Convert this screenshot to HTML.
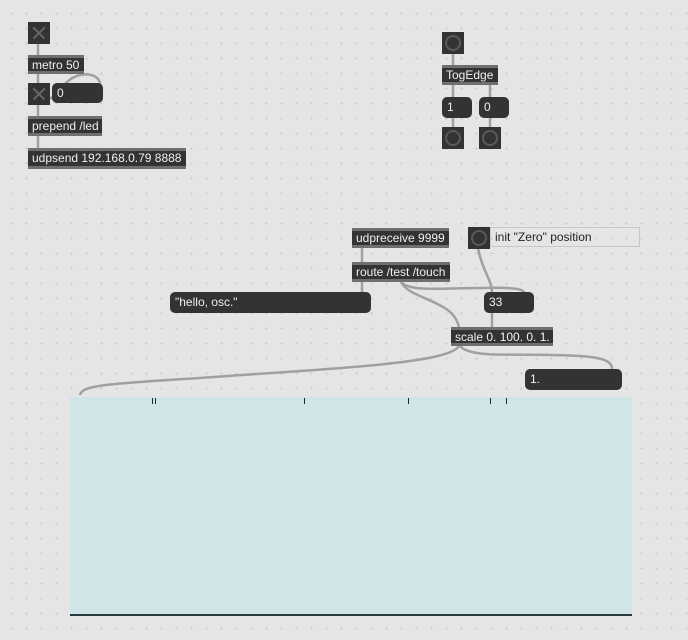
<!DOCTYPE html>
<html><head><meta charset="utf-8"><style>
*{margin:0;padding:0;box-sizing:border-box}
body{width:688px;height:640px;overflow:hidden;position:relative;background-color:#e5e5e5;
background-image:radial-gradient(circle,#c8c8c8 0.8px,transparent 1.2px);background-size:15px 15px;background-position:4px 6px;
font-family:"Liberation Sans",Arial,sans-serif;font-size:12px;color:#f0f0f0}
.o{position:absolute;background:#333;border-top:3px solid #6f6f6f;border-bottom:3px solid #6f6f6f;line-height:14px;padding-left:4px;white-space:nowrap}
.n{position:absolute;background:#333;border-radius:5px;line-height:20px;padding-left:5px}
.t{position:absolute;width:22px;height:22px;background:#333}
.t:before,.t:after{content:"";position:absolute;left:3px;top:10px;width:16px;height:1.5px;background:#666;transform:rotate(45deg)}
.t:after{transform:rotate(-45deg)}
.b{position:absolute;width:22px;height:22px;background:#333}
.b:after{content:"";position:absolute;left:3px;top:3px;width:16px;height:16px;border:2px solid #5a5a5a;border-radius:50%;box-sizing:border-box}
svg{position:absolute;left:0;top:0}
</style></head><body>
<div style="position:absolute;left:70px;top:397px;width:562px;height:219px;background:#cfe5e7;border-bottom:2px solid #2a3a40"></div>
<svg width="688" height="640">
<g stroke="#1e2a2a" stroke-width="1">
<line x1="152.5" y1="398" x2="152.5" y2="404"/><line x1="155.5" y1="398" x2="155.5" y2="404"/>
<line x1="304.5" y1="398" x2="304.5" y2="404"/><line x1="408.5" y1="398" x2="408.5" y2="404"/>
<line x1="490.5" y1="398" x2="490.5" y2="404"/><line x1="506.5" y1="398" x2="506.5" y2="404"/>
</g>
<g fill="none" stroke="#a0a0a0" stroke-width="2.5">
<path d="M38 44 V56"/><path d="M38 73 V84"/><path d="M38 105 V117"/><path d="M38 136 V149"/>
<path d="M38 103 C60 100 60 80 80 75 C95 72 100 80 100 84"/>
<path d="M453 54 V66"/><path d="M453 84 V98"/><path d="M490 84 V98"/><path d="M453 118 V128"/><path d="M490 118 V128"/>
<path d="M362 247 V263"/><path d="M362 281 V293"/>
<path d="M401 282 C410 300 455 300 459 328"/>
<path d="M401 282 C410 292 440 288 480 288 C520 287 524 290 524 293"/>
<path d="M478 248 C482 270 492 280 492 293"/><path d="M492 312 V328"/>
<path d="M459 345 C455 365 300 370 200 378 C100 384 82 386 80 395"/>
<path d="M459 345 C470 360 520 352 580 356 C612 358 612 365 612 370"/>
</g></svg>
<div class="t" style="left:28px;top:22px"></div>
<div class="o" style="left:28px;top:55px;width:56px;height:19px">metro 50</div>
<div class="t" style="left:28px;top:83px"></div>
<div class="n" style="left:52px;top:83px;width:51px;height:20px">0</div>
<div class="o" style="left:28px;top:116px;width:74px;height:20px">prepend /led</div>
<div class="o" style="left:28px;top:148px;width:158px;height:21px">udpsend 192.168.0.79 8888</div>
<div class="b" style="left:442px;top:32px"></div>
<div class="o" style="left:442px;top:65px;width:56px;height:20px">TogEdge</div>
<div class="n" style="left:442px;top:97px;width:30px;height:21px">1</div>
<div class="n" style="left:479px;top:97px;width:30px;height:21px">0</div>
<div class="b" style="left:442px;top:127px"></div>
<div class="b" style="left:479px;top:127px"></div>
<div class="o" style="left:352px;top:228px;width:97px;height:20px">udpreceive 9999</div>
<div class="b" style="left:468px;top:227px"></div>
<div style="position:absolute;left:490px;top:227px;width:150px;height:20px;border:1px solid #c8c8c8;color:#222;padding-left:4px;line-height:18px">init "Zero" position</div>
<div class="o" style="left:352px;top:262px;width:98px;height:20px">route /test /touch</div>
<div class="n" style="left:170px;top:292px;width:201px;height:21px">"hello, osc."</div>
<div class="n" style="left:484px;top:292px;width:50px;height:21px">33</div>
<div class="o" style="left:451px;top:327px;width:102px;height:19px">scale 0. 100. 0. 1.</div>
<div class="n" style="left:525px;top:369px;width:97px;height:21px">1.</div>
</body></html>
